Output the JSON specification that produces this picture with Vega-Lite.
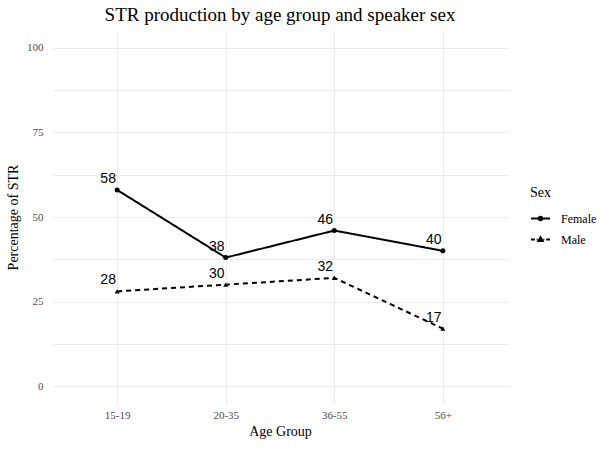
{
  "$schema": "https://vega.github.io/schema/vega-lite/v6.json",
  "width": 456,
  "height": 372,
  "autosize": {"type": "none"},
  "padding": {"left": 52, "top": 31, "right": 105, "bottom": 46},
  "background": "white",
  "title": {"text": "STR production by age group and speaker sex", "font": "Liberation Serif", "fontSize": 19, "fontWeight": "normal", "color": "black", "anchor": "middle", "offset": 6},
  "data": {"values": [
    {"age": "15-19", "sex": "Female", "pct": 58},
    {"age": "20-35", "sex": "Female", "pct": 38},
    {"age": "36-55", "sex": "Female", "pct": 46},
    {"age": "56+", "sex": "Female", "pct": 40},
    {"age": "15-19", "sex": "Male", "pct": 28},
    {"age": "20-35", "sex": "Male", "pct": 30},
    {"age": "36-55", "sex": "Male", "pct": 32},
    {"age": "56+", "sex": "Male", "pct": 17}
  ]},
  "config": {
    "view": {"stroke": null},
    "axis": {"domain": false, "ticks": false, "tickSize": 0, "gridColor": "#ebebeb", "gridWidth": 1, "labelFont": "Liberation Serif", "labelFontSize": 11, "labelColor": "#4d4d4d", "titleFont": "Liberation Serif", "titleFontSize": 14, "titleFontWeight": "normal", "titleColor": "black"}
  },
  "encoding": {
    "x": {"field": "age", "type": "ordinal", "title": "Age Group", "sort": ["15-19", "20-35", "36-55", "56+"], "scale": {"type": "point", "padding": 0.6}, "axis": {"labelAngle": 0, "grid": true, "labelPadding": 6, "titlePadding": 4}},
    "y": {"field": "pct", "type": "quantitative", "title": "Percentage of STR", "scale": {"domain": [-5, 105], "nice": false, "zero": false}, "axis": {"values": [0, 12.5, 25, 37.5, 50, 62.5, 75, 87.5, 100], "labelExpr": "datum.value % 25 == 0 ? datum.label : ''", "grid": true, "labelPadding": 9, "titlePadding": 6}}
  },
  "layer": [
    {
      "mark": {"type": "line", "color": "black", "strokeWidth": 2},
      "encoding": {"strokeDash": {"field": "sex", "type": "nominal", "scale": {"domain": ["Female", "Male"], "range": [[1, 0], [5, 4]]}, "legend": null}}
    },
    {
      "mark": {"type": "point", "filled": true, "color": "black", "opacity": 1, "size": 25},
      "encoding": {"shape": {"field": "sex", "type": "nominal", "scale": {"domain": ["Female", "Male"], "range": ["circle", "triangle-up"]}, "legend": null}}
    },
    {
      "mark": {"type": "text", "font": "Liberation Sans", "fontSize": 14, "dx": -9, "dy": -11, "color": "black", "baseline": "middle"},
      "encoding": {"text": {"field": "pct", "type": "quantitative"}}
    },
    {
      "transform": [{"filter": "false"}],
      "mark": {"type": "point", "filled": false, "color": "black", "strokeWidth": 2, "opacity": 1},
      "encoding": {"shape": {"field": "sex", "type": "nominal", "title": "Sex",
        "scale": {"domain": ["Female", "Male"], "range": ["M-1,0H1M0.18,0A0.18,0.18 0 1,1 -0.18,0A0.18,0.18 0 1,1 0.18,0Z", "M-1,0H-0.6M-0.4,0H-0.3M0.3,0H0.4M0.6,0H1M0,-0.24L0.22,0.16L-0.22,0.16Z"]},
        "legend": {"orient": "none", "legendX": 478, "legendY": 155, "titleFont": "Liberation Serif", "titleFontSize": 14, "titleFontWeight": "normal", "titleColor": "black", "titlePadding": 8, "labelFont": "Liberation Serif", "labelFontSize": 12, "labelColor": "black", "symbolSize": 361, "symbolStrokeWidth": 2, "symbolStrokeColor": "black", "symbolFillColor": "black", "labelOffset": 10, "rowPadding": 4,
          "encode": {"symbols": {"update": {"stroke": {"value": "black"}, "fill": {"value": "black"}, "strokeWidth": {"value": 2}, "opacity": {"value": 1}}}}}}}
    }
  ],
  "resolve": {"scale": {"shape": "independent"}}
}
